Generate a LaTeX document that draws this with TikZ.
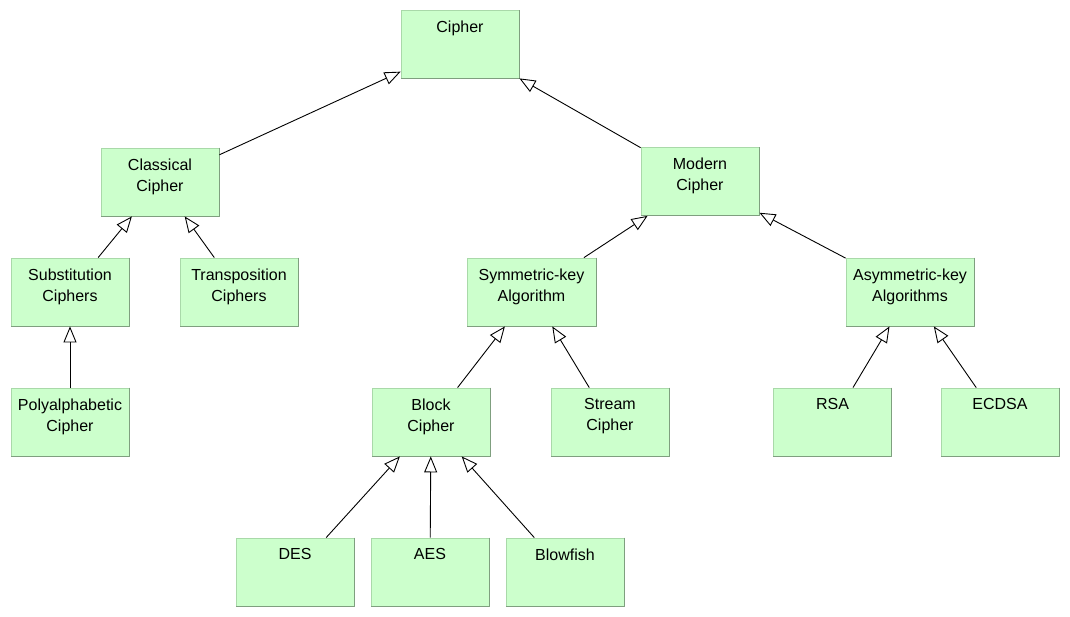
\documentclass[tikz,border=0pt]{standalone}
\usepackage{fontspec}
\setmainfont{Liberation Sans}
\usetikzlibrary{arrows.meta}
\definecolor{boxfill}{HTML}{CCFFCC}
\definecolor{boxedge}{HTML}{A9D9A9}
\definecolor{boxshade}{HTML}{7F9F7F}
\tikzset{
  cls/.style={draw=boxedge, fill=boxfill, line width=.8pt, inner sep=0pt,
    minimum width=118pt, minimum height=68pt,
    label={[lbl]north:#1}},
  lbl/.style={anchor=north, inner sep=0pt, yshift=-11pt, align=center,
    font=\fontsize{16}{21}\selectfont},
  inh/.style={line width=.9pt, -{Triangle[length=16pt, width=13pt, fill=white, line width=.9pt]}}
}
\begin{document}
\begin{tikzpicture}[x=1pt, y=-1pt, line join=round]
	\useasboundingbox (0,0) rectangle (1070,617);
	\node[cls=Cipher] (cipher) at (460,44.5) {};
	\node[cls={Classical\\Cipher}] (classical) at (160,182) {};
	\node[cls={Modern\\Cipher}] (modern) at (700,181.5) {};
	\node[cls={Substitution\\Ciphers}] (subst) at (70,292) {};
	\node[cls={Transposition\\Ciphers}] (transp) at (239,292) {};
	\node[cls={Symmetric-key\\Algorithm}, minimum width=129pt] (symm) at (531.5,292) {};
	\node[cls={Asymmetric-key\\Algorithms}, minimum width=128pt] (asymm) at (910,292) {};
	\node[cls={Polyalphabetic\\Cipher}] (poly) at (70,422) {};
	\node[cls={Block\\Cipher}] (block) at (431,422) {};
	\node[cls={Stream\\Cipher}] (stream) at (610,422) {};
	\node[cls=RSA] (rsa) at (832.5,422) {};
	\node[cls=ECDSA] (ecdsa) at (1000,422) {};
	\node[cls=DES] (des) at (295,572) {};
	\node[cls=AES] (aes) at (430,572) {};
	\node[cls=Blowfish] (blowfish) at (565,572) {};
	% darker right and bottom edges
	\foreach \n in {cipher,classical,modern,subst,transp,symm,asymm,poly,block,stream,rsa,ecdsa,des,aes,blowfish}
	{
		\draw[boxshade, line width=.9pt] (\n.north east) -- (\n.south east) -- (\n.south west);
	}
	% generalisation arrows
	\foreach \a/\b in {classical/cipher,modern/cipher,subst/classical,transp/classical,poly/subst,symm/modern,asymm/modern,block/symm,stream/symm,rsa/asymm,ecdsa/asymm,des/block,aes/block,blowfish/block}
	{
		\draw[inh] (\a) -- (\b);
	}
\end{tikzpicture}
\end{document}
